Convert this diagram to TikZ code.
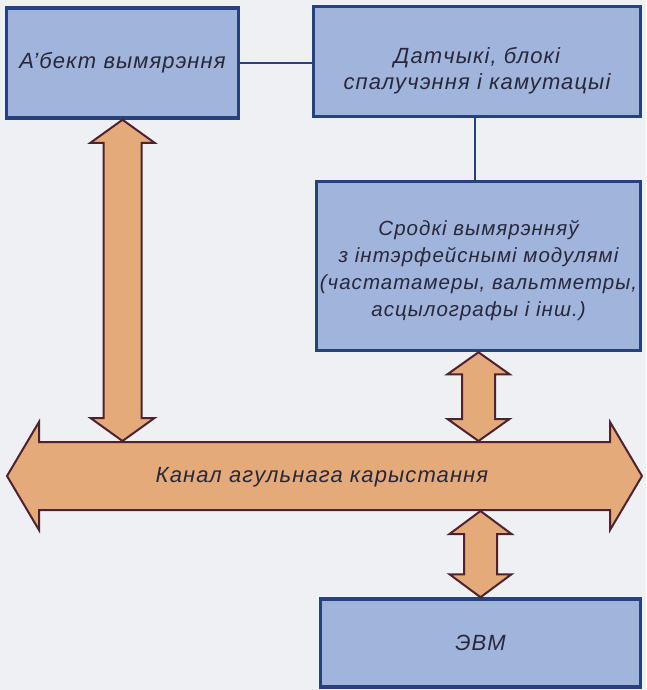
\documentclass[tikz,border=0pt]{standalone}
\usepackage{fontspec}
\setmainfont{Liberation Sans}[LetterSpace=5]
\usetikzlibrary{calc}

\definecolor{paper}{RGB}{239,240,243}
\definecolor{boxblue}{RGB}{160,180,220}
\definecolor{boxline}{RGB}{38,66,124}
\definecolor{busfill}{RGB}{228,170,122}
\definecolor{busline}{RGB}{78,34,48}
\definecolor{txt}{RGB}{40,40,58}

% fat double arrow: from, to, shaft half width, head half width, head length
\newcommand{\fatarrow}[5]{%
  \coordinate (ha) at ($(#1)!#5!(#2)$);
  \coordinate (hb) at ($(#2)!#5!(#1)$);
  \filldraw[fat] (#1) -- ($(ha)!#4!90:(#2)$) -- ($(ha)!#3!90:(#2)$)
    -- ($(hb)!#3!-90:(#1)$) -- ($(hb)!#4!-90:(#1)$) -- (#2)
    -- ($(hb)!#4!90:(#1)$) -- ($(hb)!#3!90:(#1)$)
    -- ($(ha)!#3!-90:(#2)$) -- ($(ha)!#4!-90:(#2)$) -- cycle;
}

\begin{document}
\begin{tikzpicture}[x=1pt,y=-1pt,
  box/.style={draw=boxline,line width=3.5pt,fill=boxblue,text=txt,align=center,
    font=\itshape\fontsize{22}{26}\selectfont},
  fat/.style={draw=busline,line width=2pt,fill=busfill,line join=miter},
  link/.style={draw=boxline,line width=2.5pt}]
\fill[paper] (0,0) rectangle (646,690);
\useasboundingbox (0,0) rectangle (646,690);

\node[box,minimum width=232pt,minimum height=110pt] (obj) at (122.5,63) {А’бект вымярэння};
\node[box,minimum width=327pt,minimum height=110pt] (sens) at (477,61.5)
  {\raisebox{-10pt}[\height][\depth]{\begin{tabular}{@{}c@{}}Датчыкі, блокі\\спалучэння і камутацыі\end{tabular}}};
\node[box,minimum width=324pt,minimum height=169pt,font=\itshape\fontsize{20.5}{27}\selectfont] (instr) at (478.5,266)
  {\raisebox{-5pt}[\height][\depth]{\begin{tabular}{@{}c@{}}Сродкі вымярэнняў\\з інтэрфейснымі модулямі\\(частатамеры, вальтметры,\\асцылографы і інш.)\end{tabular}}};
\node[box,minimum width=320pt,minimum height=88pt] (evm) at (480.5,643) {ЭВМ};

\draw[link] (obj.east) -- (obj.east -| sens.west);
\draw[link] (475,0 |- sens.south) -- (475,0 |- instr.north);

% bus ends and taps
\coordinate (busL) at (7,476);
\coordinate (busR) at (642,476);
\coordinate (tapA) at (122.5,441);
\coordinate (tapB) at (478.5,441);
\coordinate (tapC) at (480.5,511);

\fatarrow{obj.south}{tapA}{19pt}{32pt}{23pt}
\fatarrow{instr.south}{tapB}{16.5pt}{31pt}{22pt}
\fatarrow{tapC}{evm.north}{16.5pt}{31pt}{23pt}
\fatarrow{busL}{busR}{34pt}{54pt}{32pt}

\node[text=txt,font=\itshape\fontsize{22}{26}\selectfont] (bus) at (322,477) {Канал агульнага карыстання};
\end{tikzpicture}
\end{document}
